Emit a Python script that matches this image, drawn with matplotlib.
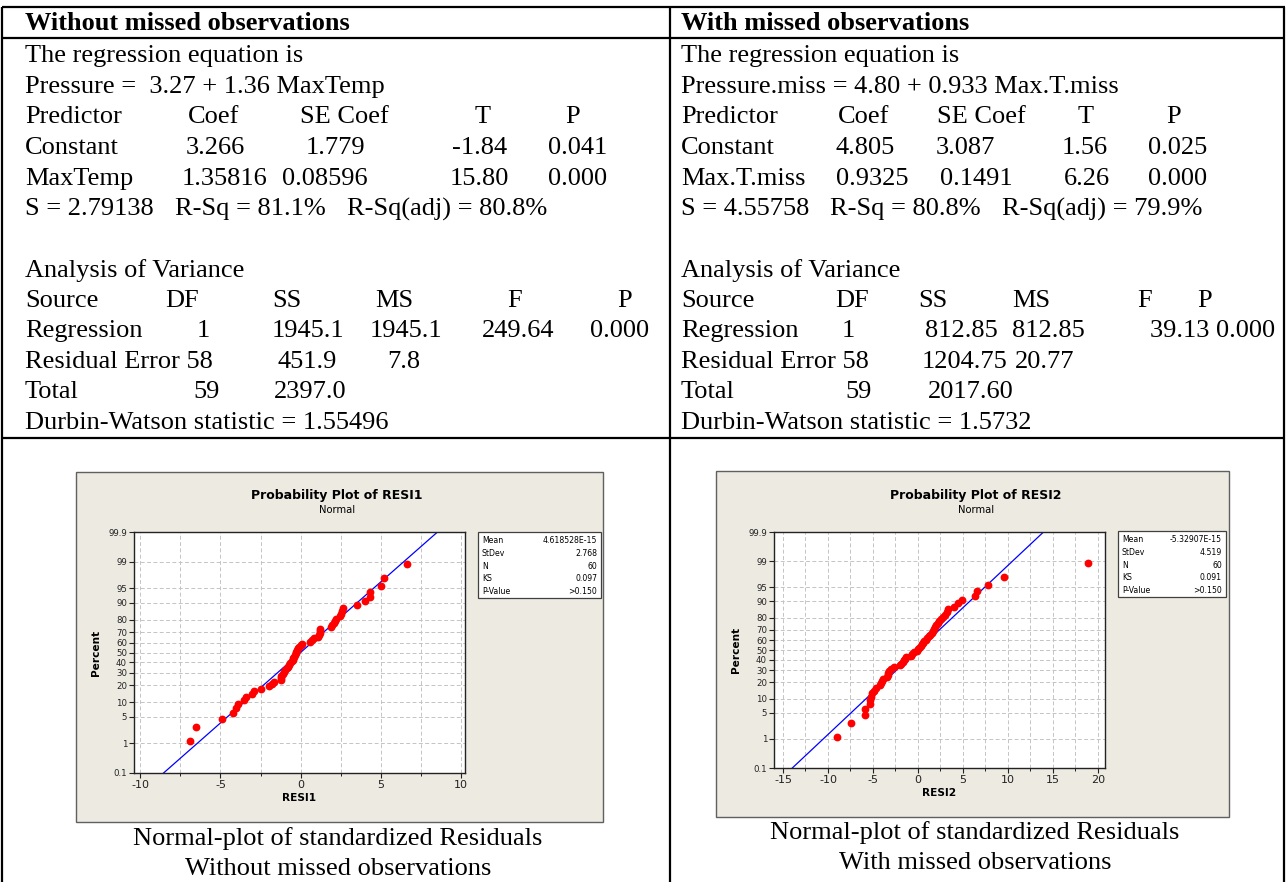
import numpy as np
import matplotlib
matplotlib.use("Agg")
import matplotlib.pyplot as plt
from matplotlib.patches import Rectangle

W, H = 1286, 882

# ------------------------------------------------------------------ data
left_header = "Without missed observations"
right_header = "With missed observations"

left_eq = ["The regression equation is", "Pressure =  3.27 + 1.36 MaxTemp"]
right_eq = ["The regression equation is", "Pressure.miss = 4.80 + 0.933 Max.T.miss"]

left_coef = [["Predictor", "Coef", "SE Coef", "T", "P"],
             ["Constant", "3.266", "1.779", "-1.84", "0.041"],
             ["MaxTemp", "1.35816", "0.08596", "15.80", "0.000"],
             ["S = 2.79138", "R-Sq = 81.1%", "R-Sq(adj) = 80.8%"]]
right_coef = [["Predictor", "Coef", "SE Coef", "T", "P"],
              ["Constant", "4.805", "3.087", "1.56", "0.025"],
              ["Max.T.miss", "0.9325", "0.1491", "6.26", "0.000"],
              ["S = 4.55758", "R-Sq = 80.8%", "R-Sq(adj) = 79.9%"]]

left_anova = [["Analysis of Variance"],
              ["Source", "DF", "SS", "MS", "F", "P"],
              ["Regression", "1", "1945.1", "1945.1", "249.64", "0.000"],
              ["Residual Error 58", "451.9", "7.8"],
              ["Total", "59", "2397.0"],
              ["Durbin-Watson statistic = 1.55496"]]
right_anova = [["Analysis of Variance"],
               ["Source", "DF", "SS", "MS", "F", "P"],
               ["Regression", "1", "812.85", "812.85", "39.13 0.000"],
               ["Residual Error 58", "1204.75", "20.77"],
               ["Total", "59", "2017.60"],
               ["Durbin-Watson statistic = 1.5732"]]

left_caption = ["Normal-plot of standardized Residuals", "Without missed observations"]
right_caption = ["Normal-plot of standardized Residuals", "With missed observations"]

# residuals (sorted)
resid1 = [-6.88, -6.54, -4.88, -4.19, -4.00, -3.92, -3.54, -3.38, -3.04, -2.92,
          -2.46, -2.00, -1.77, -1.65, -1.25, -1.25, -1.19, -1.10, -1.02, -0.94,
          -0.85, -0.77, -0.71, -0.63, -0.56, -0.50, -0.46, -0.42, -0.35, -0.31,
          -0.27, -0.19, -0.15, -0.08, 0.00, 0.08, 0.58, 0.73, 0.85, 1.06,
          1.17, 1.21, 1.21, 1.21, 1.88, 1.98, 2.06, 2.13, 2.19, 2.46,
          2.52, 2.56, 2.63, 3.52, 4.02, 4.35, 4.35, 5.00, 5.23, 6.65]
resid2 = [-9.02, -7.39, -5.86, -5.86, -5.38, -5.35, -5.27, -5.09, -4.86, -4.68,
          -4.23, -4.05, -3.97, -3.86, -3.49, -3.38, -3.30, -3.19, -3.04, -2.67,
          -2.00, -1.89, -1.71, -1.56, -1.45, -1.34, -0.78, -0.67, -0.41, -0.15,
          -0.04, 0.11, 0.30, 0.48, 0.59, 0.71, 0.85, 1.04, 1.22, 1.37,
          1.52, 1.71, 1.82, 1.89, 2.04, 2.19, 2.38, 2.56, 2.75, 3.00,
          3.19, 3.38, 3.97, 4.42, 4.86, 6.35, 6.57, 7.76, 9.58, 18.86]

stats_labels = ["Mean", "StDev", "N", "KS", "P-Value"]
stats1 = ["4.618528E-15", "2.768", "60", "0.097", ">0.150"]
stats2 = ["-5.32907E-15", "4.519", "60", "0.091", ">0.150"]
mean1, sd1 = 4.618528e-15, 2.768
mean2, sd2 = -5.32907e-15, 4.519

pct_ticks = [0.1, 1, 5, 10, 20, 30, 40, 50, 60, 70, 80, 90, 95, 99, 99.9]
pct_labels = ["0.1", "1", "5", "10", "20", "30", "40", "50", "60", "70", "80", "90", "95", "99", "99.9"]


# ------------------------------------------------------------------ helpers
def ppf(p):
    """inverse standard normal CDF (Acklam)"""
    p = np.atleast_1d(np.asarray(p, dtype=float))
    a = [-3.969683028665376e+01, 2.209460984245205e+02, -2.759285104469687e+02,
         1.383577518672690e+02, -3.066479806614716e+01, 2.506628277459239e+00]
    b = [-5.447609879822406e+01, 1.615858368580409e+02, -1.556989798598866e+02,
         6.680131188771972e+01, -1.328068155288572e+01]
    c = [-7.784894002430293e-03, -3.223964580411365e-01, -2.400758277161838e+00,
         -2.549732539343734e+00, 4.374664141464968e+00, 2.938163982698783e+00]
    d = [7.784695709041462e-03, 3.224671290700398e-01, 2.445134137142996e+00,
         3.754408661907416e+00]
    out = np.empty_like(p)
    plow = 0.02425
    for i, pi in enumerate(p):
        if pi < plow:
            q = np.sqrt(-2 * np.log(pi))
            out[i] = (((((c[0]*q+c[1])*q+c[2])*q+c[3])*q+c[4])*q+c[5]) / \
                     ((((d[0]*q+d[1])*q+d[2])*q+d[3])*q+1)
        elif pi <= 1 - plow:
            q = pi - 0.5
            r = q*q
            out[i] = (((((a[0]*r+a[1])*r+a[2])*r+a[3])*r+a[4])*r+a[5])*q / \
                     (((((b[0]*r+b[1])*r+b[2])*r+b[3])*r+b[4])*r+1)
        else:
            q = np.sqrt(-2 * np.log(1 - pi))
            out[i] = -(((((c[0]*q+c[1])*q+c[2])*q+c[3])*q+c[4])*q+c[5]) / \
                      ((((d[0]*q+d[1])*q+d[2])*q+d[3])*q+1)
    return out


def rect(x0, y0, x1, y1):
    return [x0 / W, 1 - y1 / H, (x1 - x0) / W, (y1 - y0) / H]


fig = plt.figure(figsize=(W / 100, H / 100), dpi=100)
bg = fig.add_axes([0, 0, 1, 1])
bg.set_xlim(0, W)
bg.set_ylim(H, 0)
bg.axis("off")

SERIF = "Liberation Serif"
FS = 19

# ------------------------------------------------------------------ table lines
lw = 1.6
for y in (7, 38, 438):
    bg.plot([2, 1285], [y, y], color="black", lw=lw, solid_capstyle="butt")
for x in (2, 670, 1284):
    bg.plot([x, x], [7, H], color="black", lw=lw, solid_capstyle="butt")

# ------------------------------------------------------------------ table text
def put(x, y, s, bold=False, ha="left"):
    bg.text(x, y, s, fontsize=FS, family=SERIF, ha=ha, va="center",
            fontweight="bold" if bold else "normal", color="black")

put(25, 23, left_header, bold=True)
put(681, 23, right_header, bold=True)

rows_y = [56, 87, 117, 148, 179, 209]
anova_y = [271, 301, 331, 362, 392, 423]

left_coef_x = [[25, 188, 300, 475, 565],
               [25, 186, 306, 452, 548],
               [25, 182, 282, 450, 548],
               [25, 175, 347]]
right_coef_x = [[681, 838, 937, 1078, 1166],
                [681, 836, 936, 1062, 1148],
                [681, 836, 940, 1064, 1148],
                [681, 830, 1002]]
left_anova_x = [[25],
                [25, 165, 272, 375, 507, 617],
                [25, 197, 272, 370, 482, 590],
                [25, 278, 387],
                [25, 193, 274],
                [25]]
right_anova_x = [[681],
                 [681, 835, 918, 1012, 1137, 1197],
                 [681, 842, 925, 1012, 1150],
                 [681, 922, 1015],
                 [681, 845, 928],
                 [681]]

for side_eq, side_coef, side_anova, cx, ax_, x0 in (
        (left_eq, left_coef, left_anova, left_coef_x, left_anova_x, 25),
        (right_eq, right_coef, right_anova, right_coef_x, right_anova_x, 681)):
    put(x0, rows_y[0], side_eq[0])
    put(x0, rows_y[1], side_eq[1])
    for row, xs, y in zip(side_coef, cx, rows_y[2:]):
        for s, x in zip(row, xs):
            put(x, y, s)
    for row, xs, y in zip(side_anova, ax_, anova_y):
        for s, x in zip(row, xs):
            put(x, y, s)

# captions
for cap, cxp, y0 in ((left_caption, 338, 839), (right_caption, 975, 833)):
    put(cxp, y0, cap[0], ha="center")
    put(cxp, y0 + 30, cap[1], ha="center")

# ------------------------------------------------------------------ Minitab panels
PANEL = "#EDEAE1"
SANS = "DejaVu Sans"


def panel(px0, py0, px1, py1, axbox, resid, mean, sd, xlim, xticks, xgrid,
          title, xlabel, legbox, stats):
    bg.add_patch(Rectangle((px0, py0), px1 - px0, py1 - py0, facecolor=PANEL,
                           edgecolor="#606060", lw=1.0, zorder=1))
    ax = fig.add_axes(rect(*axbox))
    ax.set_facecolor("white")
    zlo, zhi = ppf([0.001, 0.999])
    ax.set_xlim(*xlim)
    ax.set_ylim(zlo, zhi)
    zt = ppf(np.array(pct_ticks) / 100.0)
    ax.set_yticks(zt)
    ax.set_yticklabels(pct_labels)
    ax.set_xticks(xticks)
    ax.set_xticklabels([str(t) for t in xticks])
    ax.set_xticks(xgrid, minor=True)
    ax.tick_params(axis="y", labelsize=6.2, length=3.5, width=0.8, pad=1.5,
                   colors="#222222")
    ax.tick_params(axis="x", which="major", labelsize=8.0, length=3.5, width=0.8,
                   pad=1.5, colors="#222222")
    ax.tick_params(axis="x", which="minor", length=2.5, width=0.6)
    for t in zt[1:-1]:
        ax.axhline(t, color="#C4C4C4", lw=0.7, ls=(0, (4, 2.5)), zorder=1)
    for g in xgrid:
        ax.axvline(g, color="#C4C4C4", lw=0.7, ls=(0, (4, 2.5)), zorder=1)
    for s in ax.spines.values():
        s.set_color("#222222")
        s.set_linewidth(1.0)
    # fitted normal line
    ax.plot([mean + sd * zlo, mean + sd * zhi], [zlo, zhi], color="#0000FF",
            lw=0.9, zorder=2)
    r = np.sort(np.asarray(resid, dtype=float))
    n = len(r)
    pp = (np.arange(1, n + 1) - 0.3) / (n + 0.4)
    ax.plot(r, ppf(pp), "o", color="#FF0000", ms=4.6, mec="#FF0000", zorder=3,
            clip_on=False)
    ax.set_xlabel(xlabel, fontsize=7.6, fontweight="bold", family=SANS, labelpad=2)
    ax.set_ylabel("Percent", fontsize=7.6, fontweight="bold", family=SANS,
                  labelpad=5)
    # titles
    tx = title[2]
    bg.text(tx, 495, title[0], fontsize=9.0, fontweight="bold", family=SANS,
            ha="center", va="center", zorder=5)
    bg.text(tx, 510, title[1], fontsize=7.2, family=SANS, ha="center",
            va="center", zorder=5)
    # legend box
    lx0, ly0, lx1, ly1 = legbox
    bg.add_patch(Rectangle((lx0, ly0), lx1 - lx0, ly1 - ly0, facecolor="white",
                           edgecolor="#404040", lw=0.9, zorder=4))
    for k, (lab, val) in enumerate(zip(stats_labels, stats)):
        yy = ly0 + 8.5 + k * 12.8
        bg.text(lx0 + 4, yy, lab, fontsize=5.6, family=SANS, ha="left",
                va="center", zorder=5)
        bg.text(lx1 - 4, yy, val, fontsize=5.6, family=SANS, ha="right",
                va="center", zorder=5)
    return ax


ax1 = panel(76, 472, 603, 822, (134, 532, 465, 773), resid1, mean1, sd1,
            (-10.4, 10.27), [-10, -5, 0, 5, 10], np.arange(-10, 10.01, 2.5),
            ("Probability Plot of RESI1", "Normal", 337), "RESI1",
            (478, 532, 601, 598), stats1)
ax2 = panel(716, 471, 1229, 817, (774, 532, 1105, 768), resid2, mean2, sd2,
            (-16.0, 20.8), [-15, -10, -5, 0, 5, 10, 15, 20],
            np.arange(-15, 20.01, 2.5),
            ("Probability Plot of RESI2", "Normal", 976), "RESI2",
            (1118, 531, 1226, 597), stats2)

fig.savefig("out.png", dpi=100)
